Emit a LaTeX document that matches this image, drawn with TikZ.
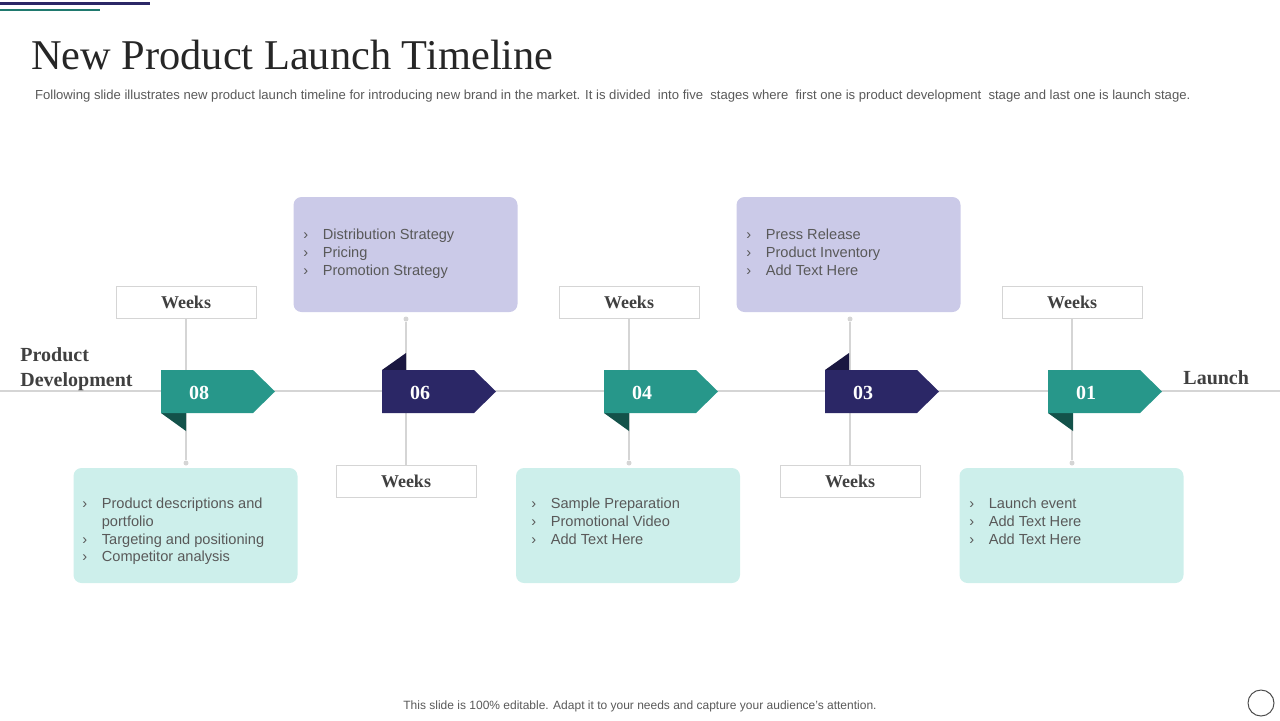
\documentclass[tikz,border=0pt]{standalone}
\usepackage{fontspec}
\newfontfamily\sans{Liberation Sans}
\setmainfont{Liberation Serif}
\definecolor{teal1}{HTML}{27978A}
\definecolor{tealdk}{HTML}{13524A}
\definecolor{navy}{HTML}{2B2766}
\definecolor{navydk}{HTML}{1A1740}
\definecolor{lav}{HTML}{CBCAE8}
\definecolor{mint}{HTML}{CDEFEB}
\definecolor{gline}{HTML}{D5D5D5}
\definecolor{txt}{HTML}{595959}
\begin{document}
\begin{tikzpicture}[x=0.5pt,y=-0.5pt,
  weeks/.style={draw=gline,fill=white,minimum width=70pt,minimum height=16pt,inner sep=0pt,font=\fontsize{9}{10}\selectfont\bfseries,text=black!75},
  card/.style={rounded corners=4pt,minimum width=112pt,minimum height=57.5pt,inner sep=0pt},
  blist/.style={anchor=north west,align=left,text=txt,font=\sans\fontsize{7.3}{8.8}\selectfont,inner sep=0pt},
  num/.style={text=white,font=\fontsize{10}{12}\selectfont\bfseries},
  vline/.style={draw=gline,line width=0.6pt},
  dot/.style={circle,fill=gline,inner sep=0pt,minimum size=2.5pt}]
\useasboundingbox (0,0) rectangle (1280,720);
\fill[navy] (0,2) rectangle (150,4.5);
\fill[teal1!80!black] (0,8.5) rectangle (100,10.5);
\node[anchor=west,font=\fontsize{21.2}{24}\selectfont,text=black!85] (title) at (24,55) {New Product Launch Timeline};
\node[anchor=west,font=\sans\fontsize{6.55}{7}\selectfont,text=txt] (sub) at (28,96) {Following slide illustrates new product launch timeline for introducing new brand in the market. It is divided\ \ into five\ \ stages where\ \ first one is product development\ \ stage and last one is launch stage.};
\draw[gline,line width=0.6pt] (0,391) -- (1280,391);
% cards
\node[card,fill=lav] (p1) at (405.5,254.5) {};
\node[card,fill=lav] (p2) at (848.5,254.5) {};
\node[card,fill=mint] (m1) at (185.5,525.5) {};
\node[card,fill=mint] (m2) at (628,525.5) {};
\node[card,fill=mint] (m3) at (1071.5,525.5) {};
% weeks boxes
\node[weeks] (w1) at (186,302) {Weeks};
\node[weeks] (w2) at (406,481) {Weeks};
\node[weeks] (w3) at (629,302) {Weeks};
\node[weeks] (w4) at (850,481) {Weeks};
\node[weeks] (w5) at (1072,302) {Weeks};
% dots
\node[dot] (d1) at (186,463) {};
\node[dot] (d2) at (406,319) {};
\node[dot] (d3) at (629,463) {};
\node[dot] (d4) at (850,319) {};
\node[dot] (d5) at (1072,463) {};
\draw[vline] (w1) -- (d1); \draw[vline] (d2) -- (w2);
\draw[vline] (w3) -- (d3); \draw[vline] (d4) -- (w4);
\draw[vline] (w5) -- (d5);
% arrows
\foreach \x/\n/\c/\d/\up in {161/08/teal1/tealdk/0,382/06/navy/navydk/1,604/04/teal1/tealdk/0,825/03/navy/navydk/1,1048/01/teal1/tealdk/0}{
  \ifnum\up=1
    \fill[\d] (\x,370) -- (\x+24,353) -- (\x+24,370) -- cycle;
  \else
    \fill[\d] (\x,413) -- (\x+25,413) -- (\x+25,431) -- cycle;
  \fi
  \fill[\c] (\x,370) -- (\x+92,370) -- (\x+114,391.5) -- (\x+92,413) -- (\x,413) -- cycle;
  \node[num] (n\n) at (\x+38,393) {\n};
}
% bullet lists
\node[blist] (l1) at (303,229) {›\quad Distribution Strategy\\›\quad Pricing\\›\quad Promotion Strategy};
\node[blist] (l2) at (746,229) {›\quad Press Release\\›\quad Product Inventory\\›\quad Add Text Here};
\node[blist] (l3) at (82,498) {›\quad Product descriptions and\\\phantom{›}\quad portfolio\\›\quad Targeting and positioning\\›\quad Competitor analysis};
\node[blist] (l4) at (531,498) {›\quad Sample Preparation\\›\quad Promotional Video\\›\quad Add Text Here};
\node[blist] (l5) at (969,498) {›\quad Launch event\\›\quad Add Text Here\\›\quad Add Text Here};
\node[anchor=west,align=left,font=\fontsize{10}{12.5}\selectfont\bfseries,text=black!75,inner sep=0pt] (pd) at (20,369) {Product\\Development};
\node[anchor=west,font=\fontsize{10}{12}\selectfont\bfseries,text=black!75,inner sep=0pt] (la) at (1183,378) {Launch};
\node[font=\sans\fontsize{6}{7}\selectfont,text=txt] (foot) at (640,706) {This slide is 100\% editable. Adapt it to your needs and capture your audience’s attention.};
\draw[black!70,line width=0.5pt] (1261,703) circle (13);
\end{tikzpicture}
\end{document}
